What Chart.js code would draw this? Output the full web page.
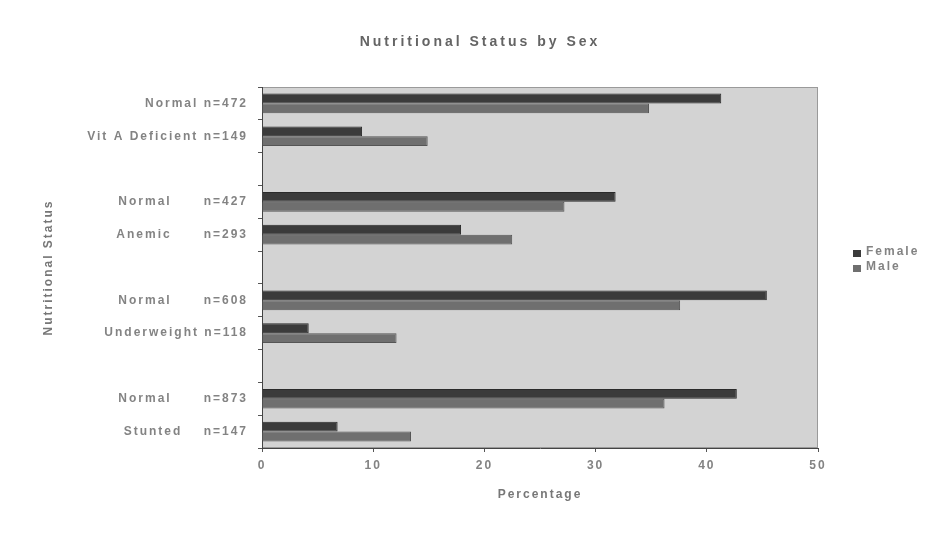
<!DOCTYPE html>
<html>
<head>
<meta charset="utf-8">
<script src="https://cdn.jsdelivr.net/npm/chart.js@4/dist/chart.umd.min.js"></script>
<style>
  html, body { margin: 0; padding: 0; background: #ffffff; }
  #wrap { width: 939px; height: 536px; position: relative; }
</style>
</head>
<body>
<div id="wrap"><canvas id="c" width="939" height="536"></canvas></div>
<script>
// Categories, top to bottom; empty strings are spacer rows between indicator groups
const categories = [
  'Normal n=472', 'Vit A Deficient n=149', '',
  'Normal      n=427', 'Anemic      n=293', '',
  'Normal      n=608', 'Underweight n=118', '',
  'Normal      n=873', 'Stunted    n=147'
];
const femaleValues = [41.3, 9.0, null, 31.8, 17.9, null, 45.4, 4.2, null, 42.7, 6.8];
const maleValues   = [34.8, 14.9, null, 27.2, 22.5, null, 37.6, 12.1, null, 36.2, 13.4];
const xTicks = [0, 10, 20, 30, 40, 50];
const chartTitle = 'Nutritional Status by Sex';

const textGray = '#838383';
const fontFamily = '"Liberation Sans", Arial, sans-serif';

// Plot area fill and frame; wide tracking on all canvas text
const plotBackground = {
  id: 'plotBackground',
  beforeLayout(chart) { chart.ctx.letterSpacing = '2px'; },
  beforeDraw(chart) {
    const { ctx, chartArea: a } = chart;
    ctx.letterSpacing = '2px';
    ctx.save();
    ctx.fillStyle = '#d3d3d3';
    ctx.fillRect(a.left, a.top, a.right - a.left, a.bottom - a.top);
    ctx.strokeStyle = '#9a9a9a';
    ctx.lineWidth = 1;
    ctx.strokeRect(a.left + 0.5, a.top + 0.5, a.right - a.left - 1, a.bottom - a.top - 1);
    ctx.restore();
  }
};

// Chart heading and legend beside the plot
const headingAndLegend = {
  id: 'headingAndLegend',
  afterDraw(chart) {
    const { ctx } = chart;
    ctx.save();
    ctx.textBaseline = 'middle';

    ctx.letterSpacing = '3px';
    ctx.font = 'bold 14px ' + fontFamily;
    ctx.fillStyle = '#646464';
    ctx.textAlign = 'center';
    ctx.fillText(chartTitle, 480, 42);

    ctx.letterSpacing = '2px';
    ctx.font = 'bold 12px ' + fontFamily;
    ctx.textAlign = 'left';
    chart.data.datasets.forEach((ds, i) => {
      const y = 253 + i * 15;
      ctx.fillStyle = ds.backgroundColor;
      ctx.fillRect(853, y - 3, 8, 7);
      ctx.fillStyle = textGray;
      ctx.fillText(ds.label, 866, y - 1);
    });
    ctx.restore();
  }
};

const tickFont = { family: fontFamily, size: 12, weight: 'bold' };

const chart = new Chart(document.getElementById('c'), {
  type: 'bar',
  data: {
    labels: categories,
    datasets: [
      {
        label: 'Female',
        data: femaleValues,
        backgroundColor: '#3b3b3b',
        borderColor: '#2a2a2a',
        borderWidth: 1,
        categoryPercentage: 0.6,
        barPercentage: 1.0
      },
      {
        label: 'Male',
        data: maleValues,
        backgroundColor: '#6f6f6f',
        borderColor: '#555555',
        borderWidth: 1,
        categoryPercentage: 0.6,
        barPercentage: 1.0
      }
    ]
  },
  options: {
    indexAxis: 'y',
    responsive: false,
    animation: false,
    layout: { padding: { left: 30, right: 121, top: 87, bottom: 10 } },
    plugins: {
      legend: { display: false },
      tooltip: { enabled: false },
      title: { display: false }
    },
    scales: {
      x: {
        min: 0,
        max: 50,
        afterBuildTicks(scale) {
          scale.ticks = xTicks.map(v => ({ value: v }));
        },
        afterFit(scale) { scale.height = 78; },
        grid: { display: true, drawOnChartArea: false, drawTicks: true, tickLength: 4, color: '#555555' },
        border: { display: true, color: '#444444', width: 1 },
        ticks: { color: textGray, padding: 6, font: tickFont },
        title: {
          display: true,
          text: 'Percentage',
          color: '#777777',
          font: { family: fontFamily, size: 12, weight: 'bold' },
          padding: { top: 4, bottom: 24 }
        }
      },
      y: {
        afterFit(scale) { scale.width = 232; },
        grid: { display: true, drawOnChartArea: false, drawTicks: true, tickLength: 4, color: '#555555' },
        border: { display: true, color: '#444444', width: 1 },
        ticks: { color: textGray, padding: 10, autoSkip: false, font: tickFont },
        title: {
          display: true,
          text: 'Nutritional Status',
          color: '#777777',
          font: { family: fontFamily, size: 12, weight: 'bold' },
          padding: { top: 11, bottom: 4 }
        }
      }
    }
  },
  plugins: [plotBackground, headingAndLegend]
});
</script>
</body>
</html>
